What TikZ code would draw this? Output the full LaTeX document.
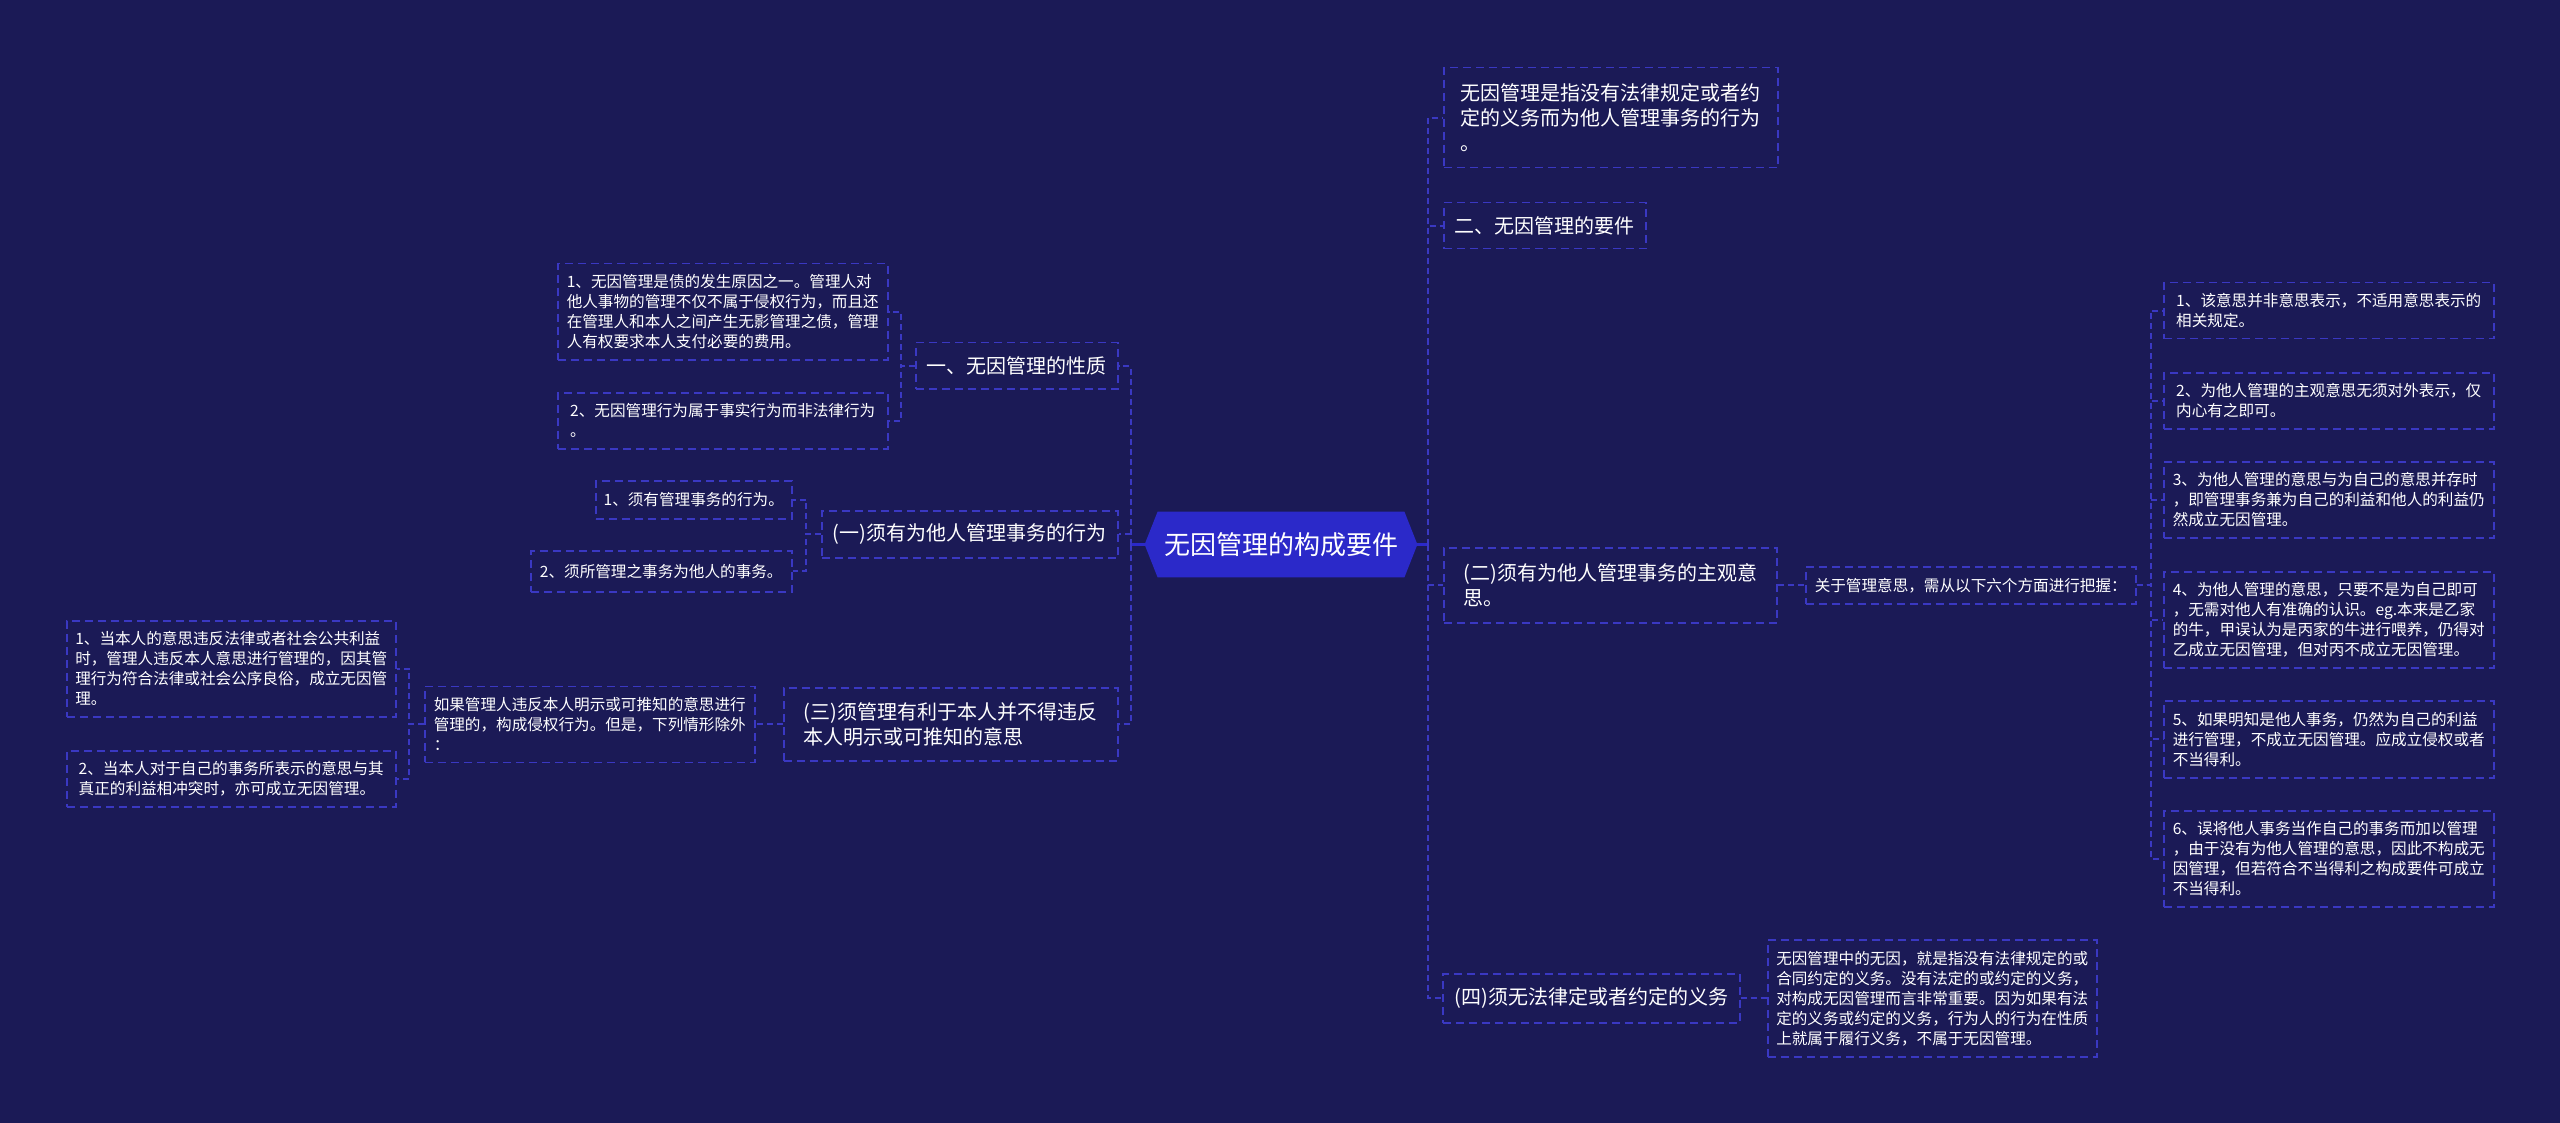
\documentclass[tikz,border=0pt]{standalone}
\usepackage{fontspec}
\setmainfont{Noto Sans CJK SC}
\pgfdeclarelayer{bottom}
\pgfdeclarelayer{middle}
\pgfsetlayers{bottom,middle,main}
\definecolor{bgc}{HTML}{1B1A56}
\definecolor{rootc}{HTML}{2B29C9}
\definecolor{linec}{HTML}{3A38C2}
\tikzset{
  bx/.style={draw=linec, line width=0.75pt, dash pattern=on 4pt off 2.5pt,
    text=white, align=left, anchor=north west, inner sep=0pt},
  sm/.style={bx, font=\fontsize{7.8}{10}\selectfont},
  md/.style={bx, font=\fontsize{10}{12.5}\selectfont},
  wh/.style 2 args={minimum width=#1*0.5pt, minimum height=#2*0.5pt},
  rootn/.style={minimum width=136pt, minimum height=32.5pt, inner sep=0pt,
    text=white, font=\fontsize{13}{15}\selectfont},
  conn/.style={draw=linec, line width=1pt, dash pattern=on 3pt off 2pt},
  rootl/.style={draw=rootc, line width=1.2pt}
}
\begin{document}
\begin{tikzpicture}[x=0.5pt,y=-0.5pt]
\begin{pgfonlayer}{bottom}
\fill[bgc] (0,0) rectangle (2560,1123);
\end{pgfonlayer}
\useasboundingbox (0,0) rectangle (2560,1123);

% root
\node[rootn] (root) at (1281,544.5) {无因管理的构成要件};
\begin{pgfonlayer}{middle}
\fill[rootc] (root.west) -- ([xshift=6.5pt]root.north west) -- ([xshift=-6.5pt]root.north east)
  -- (root.east) -- ([xshift=-6.5pt]root.south east) -- ([xshift=6.5pt]root.south west) -- cycle;
\end{pgfonlayer}

% left level 1
\node[md, wh={202}{46}] (A1) at (915,342) {一、无因管理的性质};
\node[md, wh={296}{47}] (A2) at (821,510) {(一)须有为他人管理事务的行为};
\node[md, wh={334}{73}] (A3) at (783,687) {(三)须管理有利于本人并不得违反\\本人明示或可推知的意思};

% left leaves
\node[sm, wh={330}{96}] (L1) at (557,263) {1、无因管理是债的发生原因之一。管理人对\\他人事物的管理不仅不属于侵权行为，而且还\\在管理人和本人之间产生无影管理之债，管理\\人有权要求本人支付必要的费用。};
\node[sm, wh={330}{56}] (L2) at (557,392) {2、无因管理行为属于事实行为而非法律行为\\。};
\node[sm, wh={196}{38}] (L3) at (595,480) {1、须有管理事务的行为。};
\node[sm, wh={261}{41}] (L4) at (530,550) {2、须所管理之事务为他人的事务。};
\node[sm, wh={330}{76}] (L5) at (424,685.5) {如果管理人违反本人明示或可推知的意思进行\\管理的，构成侵权行为。但是，下列情形除外\\：};
\node[sm, wh={329}{96}] (L6) at (66,620) {1、当本人的意思违反法律或者社会公共利益\\时，管理人违反本人意思进行管理的，因其管\\理行为符合法律或社会公序良俗，成立无因管\\理。};
\node[sm, wh={329}{56}] (L7) at (66,750) {2、当本人对于自己的事务所表示的意思与其\\真正的利益相冲突时，亦可成立无因管理。};

% right level 1
\node[md, wh={334}{100}] (B1) at (1443,67) {无因管理是指没有法律规定或者约\\定的义务而为他人管理事务的行为\\。};
\node[md, wh={202}{46}] (B2) at (1443,202) {二、无因管理的要件};
\node[md, wh={333}{75}] (B3) at (1443,547) {(二)须有为他人管理事务的主观意\\思。};
\node[md, wh={297}{49}] (B4) at (1442,973) {(四)须无法律定或者约定的义务};

% right deeper
\node[sm, wh={330}{37}] (C) at (1805,566) {关于管理意思，需从以下六个方面进行把握：};
\node[sm, wh={330}{56}] (D1) at (2163,282) {1、该意思并非意思表示，不适用意思表示的\\相关规定。};
\node[sm, wh={330}{56}] (D2) at (2163,372) {2、为他人管理的主观意思无须对外表示，仅\\内心有之即可。};
\node[sm, wh={330}{76}] (D3) at (2163,461) {3、为他人管理的意思与为自己的意思并存时\\，即管理事务兼为自己的利益和他人的利益仍\\然成立无因管理。};
\node[sm, wh={330}{96}] (D4) at (2163,571) {4、为他人管理的意思，只要不是为自己即可\\，无需对他人有准确的认识。eg.本来是乙家\\的牛，甲误认为是丙家的牛进行喂养，仍得对\\乙成立无因管理，但对丙不成立无因管理。};
\node[sm, wh={330}{77}] (D5) at (2163,700) {5、如果明知是他人事务，仍然为自己的利益\\进行管理，不成立无因管理。应成立侵权或者\\不当得利。};
\node[sm, wh={330}{96}] (D6) at (2163,810) {6、误将他人事务当作自己的事务而加以管理\\，由于没有为他人管理的意思，因此不构成无\\因管理，但若符合不当得利之构成要件可成立\\不当得利。};
\node[sm, wh={329}{117}] (E) at (1767,939) {无因管理中的无因，就是指没有法律规定的或\\合同约定的义务。没有法定的或约定的义务，\\对构成无因管理而言非常重要。因为如果有法\\定的义务或约定的义务，行为人的行为在性质\\上就属于履行义务，不属于无因管理。};

% connectors from root
\draw[rootl] (root.west) -- ++(-14,0) coordinate (lt);
\draw[rootl] (root.east) -- ++(11,0) coordinate (rt);
\draw[conn] (lt) |- (A1.east);
\draw[conn] (lt) |- (A2.east);
\draw[conn] (lt) |- (A3.east);
\draw[conn] (rt) |- (B1.west);
\draw[conn] (rt) |- (B2.west);
\draw[conn] (rt) |- (B3.west);
\draw[conn] (rt) |- (B4.west);

% deeper connectors, left
\draw[conn] (A1.west) -- ++(-14,0) |- (L1.east);
\draw[conn] (A1.west) -- ++(-14,0) |- (L2.east);
\draw[conn] (A2.west) -- ++(-15,0) |- (L3.east);
\draw[conn] (A2.west) -- ++(-15,0) |- (L4.east);
\draw[conn] (A3.west) -- (L5.east);
\draw[conn] (L5.west) -- ++(-15,0) |- (L6.east);
\draw[conn] (L5.west) -- ++(-15,0) |- (L7.east);

% deeper connectors, right
\draw[conn] (B3.east) -- (C.west);
\draw[conn] (C.east) -- ++(14,0) |- (D1.west);
\draw[conn] (C.east) -- ++(14,0) |- (D2.west);
\draw[conn] (C.east) -- ++(14,0) |- (D3.west);
\draw[conn] (C.east) -- ++(14,0) |- (D4.west);
\draw[conn] (C.east) -- ++(14,0) |- (D5.west);
\draw[conn] (C.east) -- ++(14,0) |- (D6.west);
\draw[conn] (B4.east) -- (E.west);
\end{tikzpicture}
\end{document}
